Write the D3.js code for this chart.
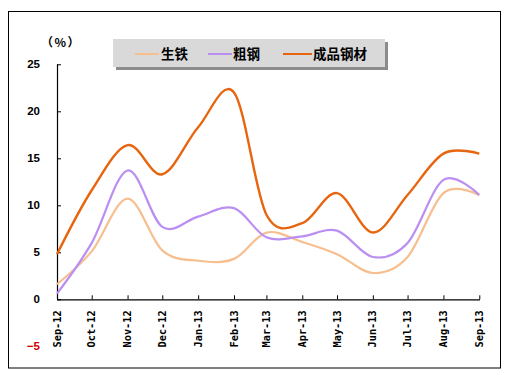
<!DOCTYPE html>
<html><head><meta charset="utf-8">
<script src="https://cdn.jsdelivr.net/npm/d3@7"></script>
<style>body{margin:0;background:#fff}</style>
</head><body>
<script>
const months = ["2012-09-01","2012-10-01","2012-11-01","2012-12-01","2013-01-01","2013-02-01","2013-03-01","2013-04-01","2013-05-01","2013-06-01","2013-07-01","2013-08-01","2013-09-01"];
const monthLabels = ["Sep-12","Oct-12","Nov-12","Dec-12","Jan-13","Feb-13","Mar-13","Apr-13","May-13","Jun-13","Jul-13","Aug-13","Sep-13"];
const seriesNames = ["生铁","粗钢","成品钢材"];
const pigIron =      [1.6, 5.1, 10.7, 5.2, 4.1, 4.3, 7.1, 6.1, 4.8, 2.8, 4.5, 11.3, 11.1];
const crudeSteel =   [0.6, 6.0, 13.7, 7.7, 8.8, 9.7, 6.6, 6.7, 7.3, 4.5, 6.0, 12.7, 11.1];
const finishedSteel= [4.8, 11.6, 16.4, 13.3, 18.3, 22.0, 9.0, 8.1, 11.3, 7.1, 11.1, 15.5, 15.5];
const yTicks = [-5, 0, 5, 10, 15, 20, 25];
const colors = ["#f7bf8f", "#bb8ef2", "#e8650f"];

const W = 508, H = 377;
const svg = d3.select("body").append("svg").attr("width", W).attr("height", H);
svg.append("rect").attr("x", 8.5).attr("y", 11.5).attr("width", 492).attr("height", 356.5)
  .attr("fill", "#fff").attr("stroke", "#000").attr("stroke-width", 1);

const parse = d3.timeParse("%Y-%m-%d");
const dates = months.map(parse);
const x = d3.scaleTime().domain([dates[0], dates[dates.length-1]]).range([57, 479.3]);
const y = d3.scaleLinear().domain([-5, 25]).range([346.3, 64.3]);

// y axis
const yAxis = d3.axisRight(y).tickValues(yTicks.filter(v => v >= 0)).tickSize(4).tickFormat("");
const gy = svg.append("g").attr("transform", "translate(57,0)").call(yAxis);
gy.select(".domain").remove();
gy.append("line").attr("x1", 0.5).attr("x2", 0.5).attr("y1", y(25)).attr("y2", y(0)).attr("stroke", "#000").attr("stroke-width", 1.2);
gy.selectAll(".tick line").attr("stroke", "#000");

svg.selectAll(".ylab").data(yTicks).enter().append("text")
  .attr("x", 40).attr("y", d => y(d)).attr("dy", "0.35em").attr("text-anchor", "end")
  .attr("font-family", "Liberation Sans, Arial, sans-serif").attr("font-weight", "bold").attr("font-size", 11.5)
  .attr("fill", d => d < 0 ? "#d00000" : "#000").text(d => d < 0 ? "−5" : d);

svg.append("text").attr("x", 61).attr("y", 46.5).attr("text-anchor", "middle")
  .attr("font-family", "Noto Sans CJK SC, sans-serif").attr("font-weight", "bold").attr("font-size", 12)
  .attr("letter-spacing", 1.5)
  .text("（%）");

// x axis
const xAxis = d3.axisTop(x).tickValues(dates).tickSize(4).tickFormat("");
const gx = svg.append("g").attr("transform", `translate(0,${y(0)})`).call(xAxis);
gx.select(".domain").remove();
gx.append("line").attr("x1", 57).attr("x2", 480).attr("y1", 0.5).attr("y2", 0.5).attr("stroke", "#000").attr("stroke-width", 1.2);
gx.selectAll(".tick line").attr("stroke", "#000");

svg.selectAll(".xlab").data(dates).enter().append("text")
  .attr("transform", d => `translate(${x(d)},${y(0) + 11}) rotate(-90)`)
  .attr("text-anchor", "end").attr("dy", "0.35em")
  .attr("font-family", "DejaVu Sans Mono, monospace").attr("font-weight", "bold").attr("font-size", 10.3)
  .text((d, i) => monthLabels[i]);

// lines
const line = d3.line().x((d, i) => x(dates[i])).y(d => y(d)).curve(d3.curveCatmullRom.alpha(0));
[pigIron, crudeSteel, finishedSteel].forEach((s, k) => {
  svg.append("path").attr("d", line(s)).attr("fill", "none")
    .attr("stroke", colors[k]).attr("stroke-width", k === 2 ? 2.4 : 2.2).attr("stroke-linejoin", "round");
});

// legend
const lg = svg.append("g");
lg.append("rect").attr("x", 116).attr("y", 42).attr("width", 272).attr("height", 28).attr("fill", "#8c8c8c");
lg.append("rect").attr("x", 113).attr("y", 39).attr("width", 272).attr("height", 28).attr("fill", "#d9d9d9");
const items = [{x1:135,x2:159,tx:161},{x1:208,x2:232,tx:233},{x1:283,x2:312,tx:313}];
items.forEach((it, k) => {
  lg.append("line").attr("x1", it.x1).attr("x2", it.x2).attr("y1", 54).attr("y2", 54)
    .attr("stroke", colors[k]).attr("stroke-width", 2);
  lg.append("text").attr("x", it.tx).attr("y", 54).attr("dy", "0.35em")
    .attr("font-family", "Noto Sans CJK SC, sans-serif").attr("font-weight", "bold").attr("font-size", 13.5)
    .text(seriesNames[k]);
});
</script>
</body></html>
